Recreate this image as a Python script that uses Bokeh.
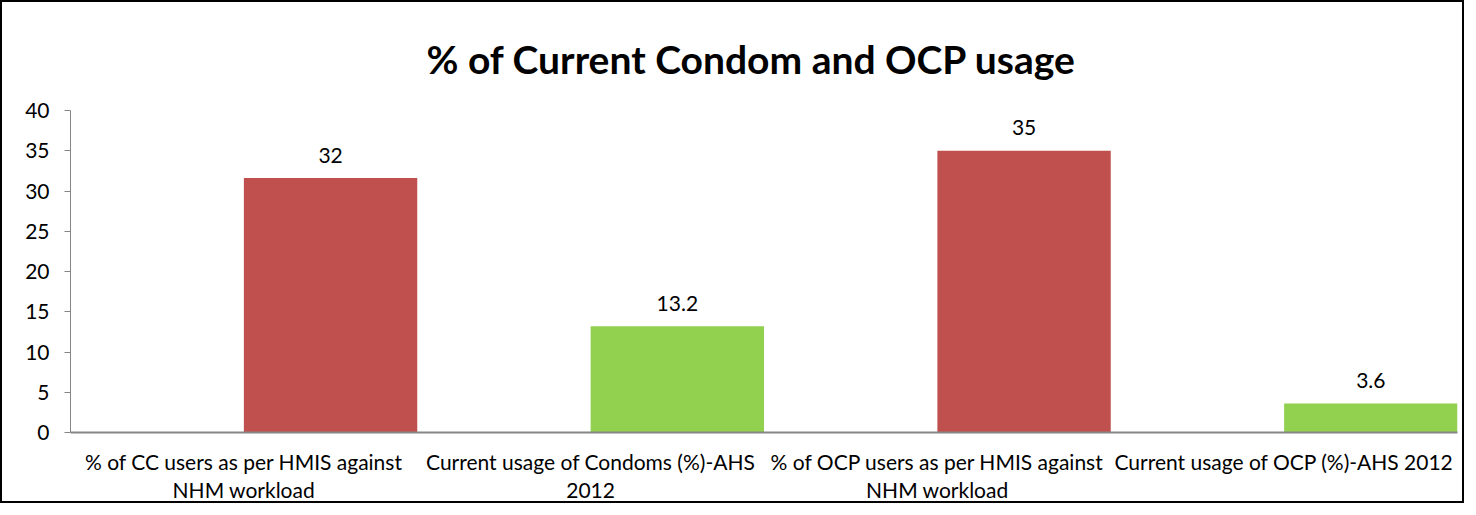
from bokeh.plotting import figure
from bokeh.models import ColumnDataSource, Range1d, FixedTicker
from bokeh.transform import dodge
from bokeh.embed import file_html
from bokeh.resources import INLINE
from bokeh.core.properties import value

categories = [
    "% of CC users as per HMIS against\nNHM workload",
    "Current usage of Condoms (%)-AHS\n2012",
    "% of OCP users as per HMIS against\nNHM workload",
    "Current usage of OCP (%)-AHS 2012",
]
values = [31.6, 13.2, 35.0, 3.6]
value_labels = ["32", "13.2", "35", "3.6"]
colors = ["#C0504D", "#92D050", "#C0504D", "#92D050"]
y_ticks = [0, 5, 10, 15, 20, 25, 30, 35, 40]

FONT = "Lato"

src = ColumnDataSource(dict(cat=categories, val=values, lab=value_labels, col=colors))

p = figure(
    x_range=categories,
    y_range=Range1d(0, 40),
    width=1464,
    height=503,
    output_backend="svg",
    toolbar_location=None,
    min_border_left=68,
    min_border_right=9,
    min_border_top=108,
    min_border_bottom=66,
    styles={"border": "2px solid black"},
    title="% of Current Condom and OCP usage",
)
p.outline_line_color = None
p.xgrid.grid_line_color = None
p.ygrid.grid_line_color = None

p.title.align = "left"
p.title.offset = 356
p.title.text_font = FONT
p.title.text_font_style = "bold"
p.title.text_font_size = "39px"
p.title.text_color = "#000000"
p.title.standoff = 58

p.vbar(x=dodge("cat", 0.25, range=p.x_range), top="val", width=0.5,
       fill_color="col", line_color=None, source=src)

p.text(x=dodge("cat", 0.25, range=p.x_range), y="val", text="lab", source=src,
       text_align="center", text_baseline="middle", y_offset=-23,
       text_font=value(FONT), text_font_size="21px", text_color="#000000")

# y axis
p.yaxis.ticker = FixedTicker(ticks=y_ticks)
p.yaxis.axis_line_color = "#868686"
p.yaxis.major_tick_line_color = "#868686"
p.yaxis.major_tick_out = 6
p.yaxis.major_tick_in = 0
p.yaxis.minor_tick_line_color = None
p.yaxis.major_label_text_font = FONT
p.yaxis.major_label_text_font_size = "21px"
p.yaxis.major_label_text_color = "#000000"
p.yaxis.major_label_standoff = 15

# x axis
p.xaxis.axis_line_color = "#868686"
p.xaxis.axis_line_width = 2
p.xaxis.major_tick_line_color = None
p.xaxis.minor_tick_line_color = None
p.xaxis.major_label_text_font = FONT
p.xaxis.major_label_text_font_size = "21px"
p.xaxis.major_label_text_line_height = 1.15
p.xaxis.major_label_text_color = "#000000"
p.xaxis.major_label_standoff = 10

open("out.html", "w").write(file_html(p, INLINE))
